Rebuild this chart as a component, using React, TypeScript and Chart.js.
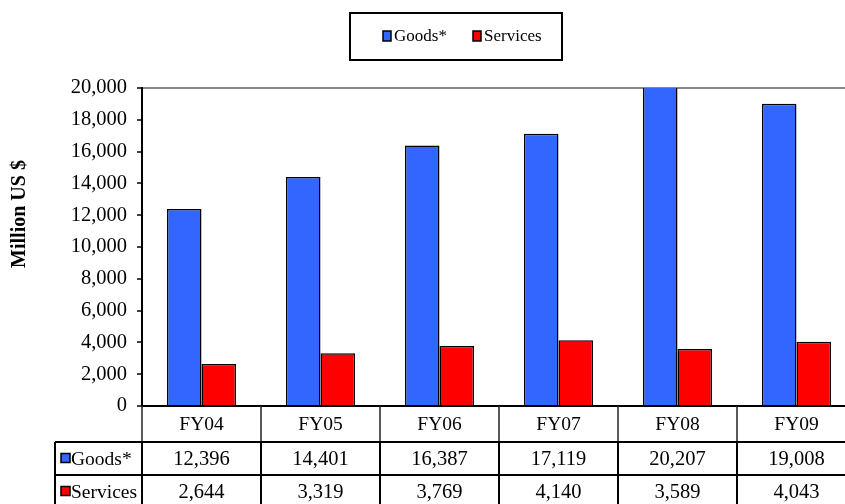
import React, { useEffect, useRef } from "react";
import { Chart, registerables } from "chart.js";

Chart.register(...registerables);

const categories = ["FY04", "FY05", "FY06", "FY07", "FY08", "FY09"];
const goods = [12396, 14401, 16387, 17119, 20207, 19008];
const services = [2644, 3319, 3769, 4140, 3589, 4043];
const seriesNames = ["Goods*", "Services"];
const seriesColors = ["#3366FF", "#FF0000"];
const yMin = 0;
const yMax = 20000;
const yStep = 2000;
const yTitle = "Million US $";

const FONT = '"Liberation Serif", "Times New Roman", serif';
const fmt = (v: number) => v.toLocaleString("en-US");

const tablePlugin = {
  id: "tablePlugin",
  afterDraw(chart: any) {
    const { ctx, chartArea } = chart;
    const x = chart.scales.x;
    const n = categories.length;
    const zeroY = chartArea.bottom;
    const headBottom = zeroY + 36;
    const row1Bottom = headBottom + 33;
    const row2Bottom = row1Bottom + 33;
    const tableLeft = 55;
    const bounds: number[] = [];
    for (let i = 0; i <= n; i++) bounds.push(x.getPixelForValue(i - 0.5));

    ctx.save();
    // header row dividers
    ctx.strokeStyle = "#222";
    ctx.lineWidth = 1.5;
    for (const b of bounds) {
      ctx.beginPath();
      ctx.moveTo(b, zeroY);
      ctx.lineTo(b, headBottom);
      ctx.stroke();
    }
    // header labels
    ctx.fillStyle = "#000";
    ctx.font = `19.5px ${FONT}`;
    ctx.textAlign = "center";
    ctx.textBaseline = "middle";
    categories.forEach((c, i) => {
      ctx.fillText(c, x.getPixelForValue(i), (zeroY + headBottom) / 2 + 1);
    });

    // body grid
    ctx.strokeStyle = "#000";
    ctx.lineWidth = 2;
    const rightEdge = bounds[n];
    [headBottom, row1Bottom, row2Bottom].forEach((yy) => {
      ctx.beginPath();
      ctx.moveTo(tableLeft, yy);
      ctx.lineTo(rightEdge, yy);
      ctx.stroke();
    });
    [tableLeft, ...bounds].forEach((b) => {
      ctx.beginPath();
      ctx.moveTo(b, headBottom);
      ctx.lineTo(b, row2Bottom);
      ctx.stroke();
    });

    const rows = [goods, services];
    rows.forEach((vals, r) => {
      const top = r === 0 ? headBottom : row1Bottom;
      const bottom = r === 0 ? row1Bottom : row2Bottom;
      const cy = (top + bottom) / 2 + 1;
      // legend key
      ctx.fillStyle = seriesColors[r];
      ctx.fillRect(tableLeft + 6, cy - 6, 9, 9);
      ctx.strokeStyle = "#000";
      ctx.lineWidth = 1.5;
      ctx.strokeRect(tableLeft + 6, cy - 6, 9, 9);
      ctx.fillStyle = "#000";
      ctx.font = `19.5px ${FONT}`;
      ctx.textAlign = "left";
      ctx.fillText(seriesNames[r], tableLeft + 16, cy);
      ctx.textAlign = "center";
      ctx.font = `20.5px ${FONT}`;
      vals.forEach((v, i) => {
        ctx.fillText(fmt(v), x.getPixelForValue(i), cy);
      });
    });

    // legend box
    ctx.strokeStyle = "#000";
    ctx.lineWidth = 2;
    ctx.strokeRect(350, 13, 212, 47);
    ctx.font = `17px ${FONT}`;
    ctx.textAlign = "left";
    ctx.textBaseline = "middle";
    const legendItems = [
      { x: 383, label: seriesNames[0], color: seriesColors[0] },
      { x: 473, label: seriesNames[1], color: seriesColors[1] },
    ];
    legendItems.forEach((it) => {
      ctx.fillStyle = it.color;
      ctx.fillRect(it.x, 31, 8, 10);
      ctx.strokeStyle = "#000";
      ctx.lineWidth = 1.5;
      ctx.strokeRect(it.x, 31, 8, 10);
      ctx.fillStyle = "#000";
      ctx.fillText(it.label, it.x + 11, 37);
    });

    // y-axis title
    ctx.save();
    ctx.translate(20, 214);
    ctx.rotate(-Math.PI / 2);
    ctx.font = `bold 20px ${FONT}`;
    ctx.textAlign = "center";
    ctx.textBaseline = "middle";
    ctx.fillStyle = "#000";
    ctx.fillText(yTitle, 0, 0);
    ctx.restore();

    ctx.restore();
  },
};

export default function App() {
  const ref = useRef<HTMLCanvasElement | null>(null);
  useEffect(() => {
    if (!ref.current) return;
    const chart = new Chart(ref.current, {
      type: "bar",
      data: {
        labels: categories,
        datasets: [
          {
            label: seriesNames[0],
            data: goods,
            backgroundColor: seriesColors[0],
            borderColor: "#000",
            borderWidth: 1.5,
          },
          {
            label: seriesNames[1],
            data: services,
            backgroundColor: seriesColors[1],
            borderColor: "#000",
            borderWidth: 1.5,
          },
        ],
      },
      options: {
        responsive: false,
        maintainAspectRatio: false,
        animation: false,
        datasets: { bar: { categoryPercentage: 0.58, barPercentage: 1 } },
        layout: { padding: { left: 0, top: 88, bottom: 98, right: 4 } },
        plugins: {
          legend: { display: false },
          tooltip: { enabled: false },
        },
        scales: {
          x: { display: false },
          y: {
            min: yMin,
            max: yMax,
            afterFit: (s: any) => {
              s.width = 142;
            },
            border: { display: true, color: "#000", width: 2 },
            grid: {
              color: (c: any) =>
                c.tick && c.tick.value === yMax
                  ? "#888"
                  : c.tick && c.tick.value === 0
                  ? "#000"
                  : "rgba(0,0,0,0)",
              lineWidth: 2,
              tickColor: "#000",
              tickWidth: 1.5,
              tickLength: 5,
            },
            ticks: {
              stepSize: yStep,
              padding: 10,
              color: "#000",
              font: { family: FONT, size: 20.5 },
              callback: (v: any) => fmt(Number(v)),
            },
          },
        },
      },
      plugins: [tablePlugin],
    });
    return () => chart.destroy();
  }, []);
  return (
    <div
      style={{
        position: "fixed",
        left: 0,
        top: 0,
        width: 845,
        height: 504,
        overflow: "hidden",
        background: "#fff",
      }}
    >
      <canvas ref={ref} width={860} height={504} style={{ display: "block", width: 860, height: 504 }} />
    </div>
  );
}
